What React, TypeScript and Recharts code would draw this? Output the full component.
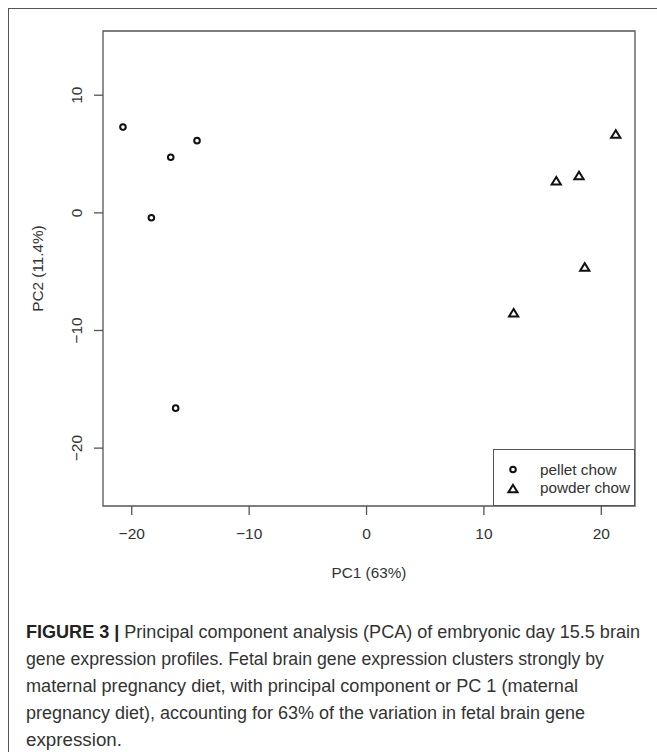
import React from "react";
import { ScatterChart, Scatter, XAxis, YAxis, ReferenceArea, Legend, Label } from "recharts";

// PCA scores
const pelletX = [-20.75, -14.44, -16.68, -18.33, -16.26];
const pelletY = [7.29, 6.14, 4.73, -0.42, -16.6];
const powderX = [21.23, 18.1, 16.16, 18.59, 12.53];
const powderY = [6.67, 3.14, 2.69, -4.63, -8.53];

const xTicks = [-20, -10, 0, 10, 20];
const yTicks = [-20, -10, 0, 10];
const xDomain = [-22.45, 22.87];
const yDomain = [-24.92, 15.46];

const captionBold = "FIGURE 3 | ";
const captionLines = [
  "Principal component analysis (PCA) of embryonic day 15.5 brain",
  "gene expression profiles. Fetal brain gene expression clusters strongly by",
  "maternal pregnancy diet, with principal component or PC 1 (maternal",
  "pregnancy diet), accounting for 63% of the variation in fetal brain gene",
  "expression.",
];
const captionEnds = [640, 604, 578, 585, 122];

const pellet = pelletX.map((x, i) => ({ x, y: pelletY[i] }));
const powder = powderX.map((x, i) => ({ x, y: powderY[i] }));

const FONT = '"Liberation Sans", Arial, sans-serif';
const GRAY = "#555";
const minus = (v: number) => String(v).replace("-", "\u2212");

const CircleMark = (props: any) => (
  <circle cx={props.cx} cy={props.cy} r={2.8} fill="none" stroke="#111" strokeWidth={2} />
);

const TriMark = (props: any) => {
  const { cx, cy } = props;
  const h = 4.2;
  const pts = `${cx},${cy - h} ${cx - h * 1.1},${cy + h * 0.8} ${cx + h * 1.1},${cy + h * 0.8}`;
  return <polygon points={pts} fill="none" stroke="#111" strokeWidth={2} strokeLinejoin="miter" />;
};

const YTick = (props: any) => {
  const { x, y, payload } = props;
  return (
    <text
      transform={`translate(${x - 18},${y}) rotate(-90)`}
      textAnchor="middle"
      dominantBaseline="central"
      fontSize={15.5}
      fill="#333"
      fontFamily={FONT}
    >
      {minus(payload.value)}
    </text>
  );
};

const LegendBox = (props: any) => {
  const items = props.payload || [];
  return (
    <div
      style={{
        position: "relative",
        width: 142,
        height: 57,
        border: `1.3px solid ${GRAY}`,
        boxSizing: "border-box",
        background: "#fff",
        fontFamily: FONT,
        fontSize: 15.3,
        color: "#333",
      }}
    >
      {items.map((it: any, i: number) => (
        <div
          key={it.value}
          style={{ position: "absolute", left: 0, top: 10 + i * 18.7, height: 19, display: "flex", alignItems: "center" }}
        >
          <svg width={40} height={19} style={{ display: "block" }}>
            {it.type === "triangle" ? <TriMark cx={19} cy={10} /> : <CircleMark cx={19} cy={9.5} />}
          </svg>
          <span style={{ marginLeft: 6, whiteSpace: "nowrap" }}>{it.value}</span>
        </div>
      ))}
    </div>
  );
};

export default function App() {
  return (
    <div style={{ position: "absolute", left: 0, top: 0, width: 657, height: 752, background: "#fff", overflow: "hidden" }}>
      <div
        style={{
          position: "absolute",
          left: 8,
          top: 8,
          width: 700,
          height: 760,
          borderLeft: `1.5px solid ${GRAY}`,
          borderTop: `1.5px solid ${GRAY}`,
        }}
      />
      <div style={{ position: "absolute", left: 0, top: 0 }}>
        <ScatterChart width={657} height={600} margin={{ top: 31, right: 22, bottom: 0, left: 0 }}>
          <XAxis
            type="number"
            dataKey="x"
            domain={xDomain}
            ticks={xTicks}
            allowDataOverflow
            height={94}
            axisLine={false}
            tickLine={{ stroke: GRAY, strokeWidth: 1.3 }}
            tickSize={9}
            tickMargin={13}
            tickFormatter={minus}
            tick={{ fontSize: 15.5, fill: "#333", fontFamily: FONT }}
          >
            <Label value="PC1 (63%)" position="insideBottom" offset={22} fontSize={15.3} fill="#333" fontFamily={FONT} />
          </XAxis>
          <YAxis
            type="number"
            dataKey="y"
            domain={yDomain}
            ticks={yTicks}
            allowDataOverflow
            width={103}
            axisLine={false}
            tickLine={{ stroke: GRAY, strokeWidth: 1.3 }}
            tickSize={9}
            tickMargin={0}
            tick={<YTick />}
          >
            <Label
              value="PC2 (11.4%)"
              angle={-90}
              position="insideLeft"
              offset={38}
              style={{ textAnchor: "middle" }}
              fontSize={15.3}
              fill="#333"
              fontFamily={FONT}
            />
          </YAxis>
          <ReferenceArea
            x1={xDomain[0]}
            x2={xDomain[1]}
            y1={yDomain[0]}
            y2={yDomain[1]}
            fill="none"
            stroke={GRAY}
            strokeWidth={1.3}
            ifOverflow="visible"
          />
          <Scatter name="pellet chow" data={pellet} legendType="circle" shape={CircleMark} isAnimationActive={false} />
          <Scatter name="powder chow" data={powder} legendType="triangle" shape={TriMark} isAnimationActive={false} />
          <Legend
            layout="horizontal"
            verticalAlign="middle"
            align="center"
            content={<LegendBox />}
            wrapperStyle={{ left: 493, top: 449.3, width: 142, height: 57 }}
          />
        </ScatterChart>
      </div>
      <svg style={{ position: "absolute", left: 0, top: 600 }} width={657} height={152}>
        {captionLines.map((line, i) => (
          <text
            key={i}
            x={26}
            y={38 + i * 27}
            fontSize={17.5}
            fill="#333"
            fontFamily={FONT}
            textLength={captionEnds[i] - 26}
            lengthAdjust="spacingAndGlyphs"
          >
            {i === 0 && <tspan fontWeight="bold" fill="#222">{captionBold}</tspan>}
            {line}
          </text>
        ))}
      </svg>
    </div>
  );
}
